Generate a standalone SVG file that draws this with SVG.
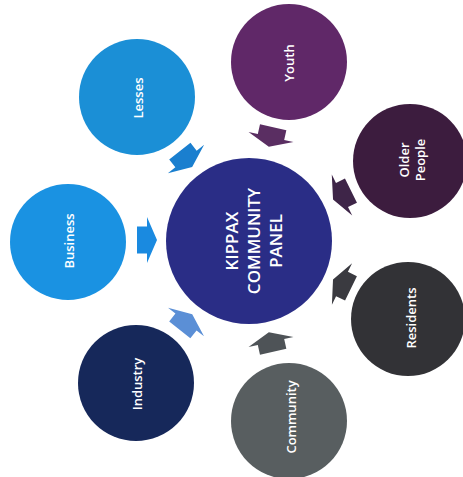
<svg xmlns="http://www.w3.org/2000/svg" xmlns:xlink="http://www.w3.org/1999/xlink" width="463" height="477" viewBox="0 0 463 477">
  <style>
    .lbl { font-family: "Open Sans", "Noto Sans", "DejaVu Sans", sans-serif; font-weight: 600; font-size: 13px; fill: #ffffff; text-anchor: middle; dominant-baseline: central; }
    .ctr { font-family: "Open Sans", "Noto Sans", "DejaVu Sans", sans-serif; font-weight: 600; font-size: 17px; fill: #ffffff; text-anchor: middle; }
  </style>
  <defs>
    <path id="arr" d="M-10,-13.5 H0 V-23 L10,0 L0,23 V13.5 H-10 Z"/>
  </defs>
  <rect width="463" height="477" fill="#ffffff"/>

  <g id="connectors">
    <use xlink:href="#arr" transform="translate(186,159) rotate(52)" fill="#1a7fcf"/>
    <use xlink:href="#arr" transform="translate(147,240) rotate(0)" fill="#1a8ae0"/>
    <use xlink:href="#arr" transform="translate(186,322) rotate(-51.5)" fill="#5b8fd6"/>
    <use xlink:href="#arr" transform="translate(271,342) rotate(-102.5)" fill="#4e5357"/>
    <use xlink:href="#arr" transform="translate(342,284) rotate(-154)" fill="#3a3a40"/>
    <use xlink:href="#arr" transform="translate(342,195) rotate(153.6)" fill="#3e2548"/>
    <use xlink:href="#arr" transform="translate(271,137) rotate(102.6)" fill="#5a2e62"/>
  </g>

  <g id="center">
    <circle cx="249" cy="241" r="83" fill="#2a2d86"/>
    <g transform="translate(249,241) rotate(-90)">
      <text class="ctr" x="0" y="-11">KIPPAX</text>
      <text class="ctr" x="0" y="11">COMMUNITY</text>
      <text class="ctr" x="0" y="33">PANEL</text>
    </g>
  </g>

  <g id="lesses">
    <circle cx="137" cy="97" r="58" fill="#1b8fd6"/>
    <text class="lbl" transform="translate(138,98) rotate(-90)">Lesses</text>
  </g>

  <g id="business">
    <circle cx="68" cy="242" r="58" fill="#1a92e2"/>
    <text class="lbl" transform="translate(69,241) rotate(-90)">Business</text>
  </g>

  <g id="industry">
    <circle cx="136" cy="383" r="58" fill="#16285a"/>
    <text class="lbl" transform="translate(137,384) rotate(-90)">Industry</text>
  </g>

  <g id="community">
    <circle cx="289" cy="421" r="58" fill="#585e60"/>
    <text class="lbl" transform="translate(291,417) rotate(-90)">Community</text>
  </g>

  <g id="residents">
    <circle cx="408" cy="319" r="57" fill="#323236"/>
    <text class="lbl" transform="translate(411,318) rotate(-90)">Residents</text>
  </g>

  <g id="older-people">
    <circle cx="410" cy="161" r="57" fill="#3c1c3e"/>
    <g transform="translate(412,160) rotate(-90)">
      <text class="lbl" x="0" y="-8">Older</text>
      <text class="lbl" x="0" y="8">People</text>
    </g>
  </g>

  <g id="youth">
    <circle cx="289" cy="62" r="58" fill="#602868"/>
    <text class="lbl" transform="translate(289,63) rotate(-90)">Youth</text>
  </g>
</svg>
